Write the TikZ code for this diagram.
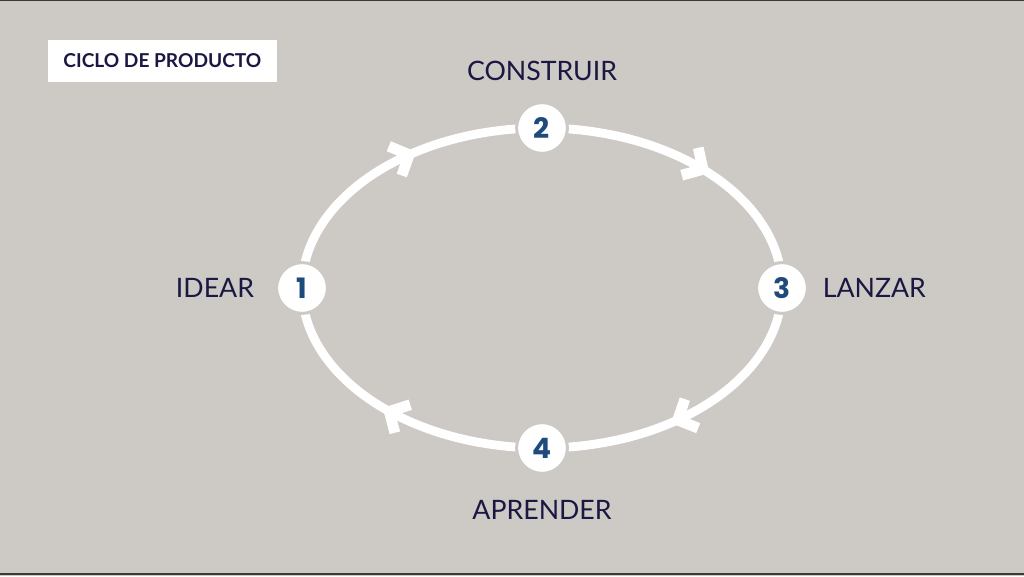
\documentclass[tikz,border=0pt]{standalone}
\usepackage{fontspec}
\setmainfont{Lato}
\newfontfamily\numfont{Poppins}
\usepackage{xcolor}
\usetikzlibrary{positioning, decorations.markings}
\definecolor{fondo}{HTML}{CDC9C4}
\definecolor{tinta}{HTML}{1B1743}
\definecolor{numero}{HTML}{1F4A7C}
\definecolor{borde}{HTML}{3A3936}

\begin{document}
\begin{tikzpicture}[
    etapa/.style={circle, fill=white, draw=fondo, line width=0.075cm, minimum size=1.27cm, inner sep=0pt,
      font=\numfont\bfseries\fontsize{20}{20}\selectfont, text=numero},
    rotulo/.style={inner sep=0pt, text=tinta, font=\fontsize{19}{22}\selectfont},
    ciclo/.style={white, line width=0.22cm, postaction={decorate},
      decoration={markings, mark=at position #1 with {\draw[white, line width=0.27cm] (-0.38,0.4) -- (0,0) -- (-0.38,-0.4);}}},
    ciclo/.default=0.55
  ]
  % fondo y margenes
  \fill[fondo] (0,0) rectangle (25.6,14.4);
  \useasboundingbox (0,0) rectangle (25.6,14.4);
  \fill[borde] (0,14.375) rectangle (25.6,14.4);
  \fill[borde] (0,0.025) rectangle (25.6,0.075);

  % titulo
  \node [fill=white, minimum width=5.725cm, minimum height=1.05cm, text=tinta,
    font=\bfseries\fontsize{13.6}{15}\selectfont] (titulo) at (4.06,12.875) {CICLO DE PRODUCTO};

  % etapas
  \coordinate (e1) at (7.55,7.2);
  \coordinate (e2) at (13.55,11.2);
  \coordinate (e3) at (19.55,7.2);
  \coordinate (e4) at (13.55,3.2);

  \draw [ciclo=0.57] (e1) arc [start angle=180, end angle=90, x radius=6cm, y radius=4cm];
  \draw [ciclo=0.53] (e2) arc [start angle=90, end angle=0, x radius=6cm, y radius=4cm];
  \draw [ciclo=0.56] (e3) arc [start angle=0, end angle=-90, x radius=6cm, y radius=4cm];
  \draw [ciclo=0.50] (e4) arc [start angle=270, end angle=180, x radius=6cm, y radius=4cm];

  \node [etapa] (n1) at (e1) {1};
  \node [etapa] (n2) at (e2) {2};
  \node [etapa] (n3) at (e3) {3};
  \node [etapa] (n4) at (e4) {4};

  % rotulos
  \node [rotulo, left = 0.52cm of n1] (idear) {IDEAR};
  \node [rotulo, above = 0.5cm of n2] (construir) {CONSTRUIR};
  \node [rotulo, right = 0.34cm of n3] (lanzar) {LANZAR};
  \node [rotulo, below = 0.63cm of n4] (aprender) {APRENDER};
\end{tikzpicture}
\end{document}
